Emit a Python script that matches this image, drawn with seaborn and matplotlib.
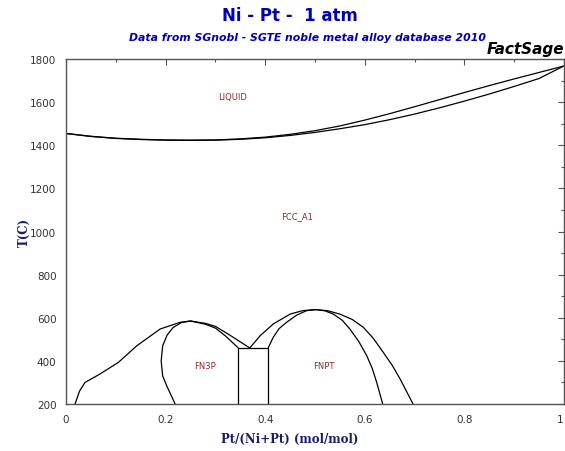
import seaborn as sns
import matplotlib.pyplot as plt
from matplotlib.ticker import MultipleLocator

# Ni-Pt phase diagram values
liq_x = [0, 0.05, 0.1, 0.15, 0.2, 0.25, 0.3, 0.35, 0.4, 0.45, 0.5,
         0.55, 0.6, 0.65, 0.7, 0.75, 0.8, 0.85, 0.9, 0.95, 1.0]
liquidus_T = [1455, 1442, 1433, 1428, 1425, 1424, 1425, 1430, 1438, 1451, 1468,
              1490, 1517, 1547, 1579, 1612, 1645, 1677, 1708, 1738, 1768]
solidus_T = [1455, 1441, 1432, 1427, 1424, 1423, 1424, 1428, 1435, 1446, 1460,
             1477, 1496, 1519, 1545, 1574, 1605, 1638, 1673, 1710, 1768]

# FCC_A1 boundary around FN3P (Ni side) and on to the V point
fcc_left_x = [0.018, 0.027, 0.038, 0.068, 0.105, 0.142, 0.189, 0.229, 0.25,
              0.28, 0.30, 0.33, 0.369]
fcc_left_T = [200, 260, 300, 339, 393, 470, 548, 579, 585,
              574, 560, 518, 460]

# FN3P single-phase boundary
fn3p_x = [0.219, 0.202, 0.194, 0.191, 0.194, 0.203, 0.215, 0.232, 0.25,
          0.28, 0.30, 0.32, 0.346]
fn3p_T = [200, 285, 330, 400, 470, 520, 555, 578, 585,
          570, 552, 516, 460]

# two-phase box between FN3P and FNPT
box_x = [0.346, 0.346, 0.406, 0.406]
box_T = [200, 460, 460, 200]

# FCC_A1 boundary around FNPT
fcc_right_x = [0.369, 0.390, 0.416, 0.450, 0.475, 0.50, 0.525, 0.550, 0.575,
               0.597, 0.617, 0.637, 0.655, 0.671, 0.697]
fcc_right_T = [460, 517, 571, 617, 633, 638, 633, 617, 592,
               556, 505, 440, 380, 316, 200]

# FNPT single-phase boundary
fnpt_x = [0.406, 0.416, 0.428, 0.443, 0.463, 0.483, 0.503, 0.520, 0.537,
          0.555, 0.570, 0.588, 0.604, 0.615, 0.624, 0.636]
fnpt_T = [460, 509, 550, 579, 612, 633, 638, 632, 617,
          588, 548, 490, 424, 365, 300, 200]

phase_labels = ["LIQUID", "FCC_A1", "FN3P", "FNPT"]
label_x = [0.335, 0.463, 0.279, 0.517]
label_T = [1628, 1072, 377, 377]

sns.set_theme(style="white")
plt.rcParams['font.family'] = ['DejaVu Sans']

fig = plt.figure(figsize=(5.65, 4.52), dpi=100)
ax = fig.add_axes([0.117, 0.104, 0.881, 0.763])

curves = [(liq_x, liquidus_T), (liq_x, solidus_T),
          (fcc_left_x, fcc_left_T), (fn3p_x, fn3p_T), (box_x, box_T),
          (fcc_right_x, fcc_right_T), (fnpt_x, fnpt_T)]
for cx, cy in curves:
    sns.lineplot(x=cx, y=cy, sort=False, estimator=None, color="black",
                 linewidth=0.9, ax=ax)

for name, lx, ly in zip(phase_labels, label_x, label_T):
    ax.text(lx, ly, name, color="#8b2a2a", fontsize=6, ha="center", va="center")

ax.set_xlim(0, 1)
ax.set_ylim(200, 1800)
ax.xaxis.set_major_locator(MultipleLocator(0.2))
ax.xaxis.set_minor_locator(MultipleLocator(0.1))
ax.yaxis.set_major_locator(MultipleLocator(200))
ax.yaxis.set_minor_locator(MultipleLocator(100))
ax.set_xticks([0, 0.2, 0.4, 0.6, 0.8, 1.0])
ax.set_xticklabels(["0", "0.2", "0.4", "0.6", "0.8", "1"])
ax.get_xticklabels()[-1].set_horizontalalignment("right")
ax.tick_params(which="both", direction="in", top=True, right=True,
               color="#555555", labelsize=7.5, labelcolor="#333333")
ax.tick_params(which="major", length=4, width=0.8, pad=7)
ax.tick_params(which="minor", length=2, width=0.8)
for s in ax.spines.values():
    s.set_color("#555555")
    s.set_linewidth(1.0)

ax.set_xlabel("Pt/(Ni+Pt) (mol/mol)", family="serif", fontweight="bold",
              color="#1c1c6b", fontsize=8.5)
ax.set_ylabel("T(C)", family="serif", fontweight="bold",
              color="#1c1c6b", fontsize=8.5)
ax.yaxis.set_label_coords(-0.07, 0.5)
ax.xaxis.set_label_coords(0.45, -0.08)

fig.text(0.513, 0.965, "Ni - Pt -  1 atm", ha="center", va="center",
         color="#0000b4", fontsize=12, fontweight="bold")
fig.text(0.545, 0.915, "Data from SGnobl - SGTE noble metal alloy database 2010",
         ha="center", va="center", color="#0000b4", fontsize=7.8,
         fontweight="bold", style="italic")
fig.text(0.998, 0.89, "FactSage", ha="right", va="center", color="black",
         fontsize=11, fontweight="bold", style="italic")

fig.savefig("out.png", dpi=100)
